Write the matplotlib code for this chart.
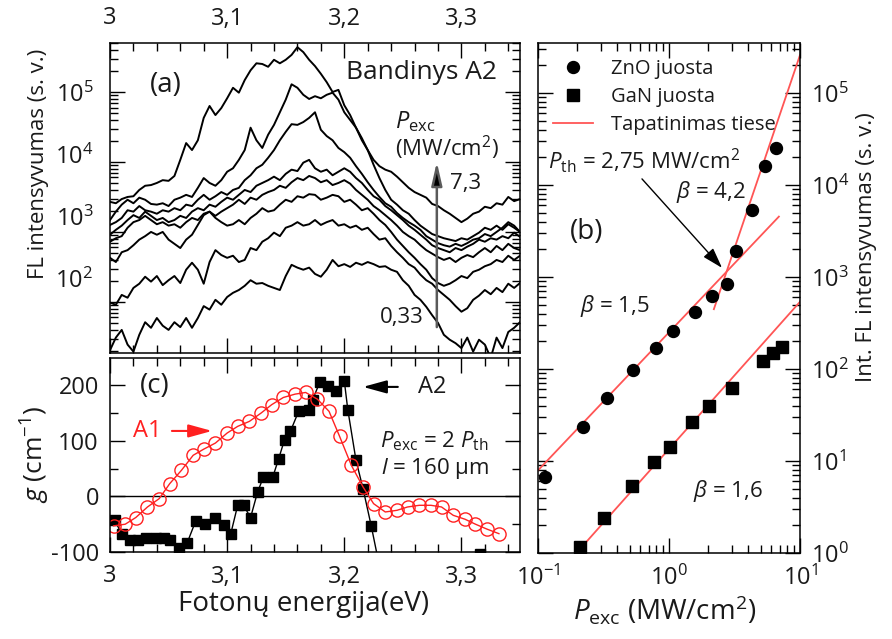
import numpy as np
import matplotlib
matplotlib.use("Agg")
import matplotlib.pyplot as plt
from matplotlib.ticker import (FixedLocator, FuncFormatter, MultipleLocator,
                               LogLocator, NullFormatter, NullLocator)
from matplotlib.lines import Line2D

plt.rcParams["font.family"] = ["Open Sans", "DejaVu Sans"]
plt.rcParams["mathtext.fontset"] = "custom"
plt.rcParams["mathtext.rm"] = "Open Sans"
plt.rcParams["mathtext.it"] = "Open Sans:italic"
plt.rcParams["mathtext.bf"] = "Open Sans:bold"
plt.rcParams["axes.unicode_minus"] = False

TEXT = "#1a1a1a"
RED = "#ff2020"
FIT = "#ff5555"

# ---------------- (a) PL spectra, log10 of intensity (a.u.) ----------------
energy_a = np.linspace(3.0, 3.35, 71)  # spectrometer grid, eV

spec_1 = [1.31, 1.49, 1.60, 1.39, 1.29, 1.53, 1.71, 1.63, 1.77, 1.66,
          1.60, 1.71, 1.64, 1.77, 1.63, 1.77, 1.94, 1.89, 2.03, 1.96,
          2.07, 2.13, 2.17, 2.23, 2.31, 2.26, 2.27, 2.23, 2.20, 2.17,
          2.37, 2.53, 2.49, 2.46, 2.49, 2.40, 2.36, 2.46, 2.60, 2.51,
          2.54, 2.50, 2.56, 2.53, 2.57, 2.54, 2.50, 2.51, 2.46, 2.43,
          2.31, 2.23, 2.10, 2.03, 1.93, 1.81, 1.70, 1.53, 1.46, 1.41,
          1.34, 1.49, 1.29, 1.46, 1.39, 1.20, 1.49, 1.34, 1.57, 1.63, 1.71]
spec_2 = [1.99, 1.96, 2.10, 2.06, 2.20, 2.26, 2.36, 2.29, 2.37, 2.24,
          2.31, 2.37, 2.27, 2.46, 2.56, 2.46, 2.26, 2.57, 2.74, 2.67,
          2.63, 2.66, 2.57, 2.60, 2.77, 2.74, 2.86, 2.91, 2.99, 2.94,
          3.06, 3.09, 3.14, 3.09, 3.11, 3.17, 3.10, 3.14, 3.17, 3.09,
          3.11, 3.06, 3.09, 3.03, 3.06, 2.97, 2.89, 2.91, 2.80, 2.71,
          2.63, 2.54, 2.49, 2.39, 2.31, 2.26, 2.17, 2.10, 2.03, 1.94,
          1.86, 1.91, 2.03, 2.09, 2.17, 2.11, 2.20, 2.14, 2.26, 2.20, 2.27]
spec_3 = [2.63, 2.57, 2.71, 2.74, 2.81, 2.89, 2.94, 3.00, 2.96, 3.00,
          2.89, 2.83, 2.77, 2.89, 2.96, 3.10, 3.24, 3.29, 3.20, 3.14,
          3.09, 3.11, 3.17, 3.11, 3.20, 3.26, 3.34, 3.29, 3.31, 3.39,
          3.46, 3.43, 3.51, 3.49, 3.54, 3.53, 3.46, 3.49, 3.53, 3.51,
          3.43, 3.46, 3.39, 3.31, 3.34, 3.26, 3.17, 3.10, 3.00, 2.89,
          2.80, 2.71, 2.63, 2.54, 2.46, 2.34, 2.27, 2.23, 2.26, 2.31,
          2.37, 2.34, 2.43, 2.46, 2.51, 2.54, 2.60, 2.57, 2.66, 2.60, 2.66]
spec_4 = [2.86, 2.91, 2.94, 3.06, 3.14, 3.17, 3.23, 3.17, 3.11, 3.14,
          3.09, 3.11, 3.06, 3.14, 3.20, 3.17, 3.26, 3.29, 3.23, 3.29,
          3.34, 3.39, 3.46, 3.40, 3.49, 3.46, 3.53, 3.57, 3.60, 3.66,
          3.63, 3.71, 3.77, 3.74, 3.80, 3.77, 3.71, 3.74, 3.67, 3.70,
          3.74, 3.69, 3.60, 3.53, 3.46, 3.37, 3.31, 3.24, 3.17, 3.09,
          3.00, 2.94, 2.89, 2.81, 2.74, 2.69, 2.64, 2.60, 2.63, 2.57,
          2.63, 2.67, 2.64, 2.71, 2.77, 2.71, 2.80, 2.74, 2.83, 2.77, 2.74]
spec_5 = [2.96, 3.03, 3.09, 3.17, 3.24, 3.20, 3.29, 3.23, 3.17, 3.20,
          3.14, 3.17, 3.23, 3.20, 3.29, 3.34, 3.31, 3.39, 3.36, 3.43,
          3.49, 3.46, 3.53, 3.60, 3.57, 3.66, 3.70, 3.74, 3.79, 3.74,
          3.83, 3.89, 3.87, 3.99, 4.03, 3.91, 3.86, 3.89, 3.81, 3.86,
          3.91, 3.86, 3.77, 3.70, 3.60, 3.51, 3.46, 3.37, 3.31, 3.24,
          3.17, 3.09, 3.03, 2.96, 2.89, 2.81, 2.77, 2.74, 2.71, 2.77,
          2.74, 2.79, 2.83, 2.89, 2.86, 2.91, 2.89, 2.94, 2.91, 2.99, 2.93]
spec_6 = [3.10, 3.14, 3.20, 3.31, 3.29, 3.37, 3.31, 3.29, 3.26, 3.31,
          3.29, 3.34, 3.31, 3.39, 3.37, 3.46, 3.53, 3.46, 3.51, 3.57,
          3.53, 3.60, 3.63, 3.74, 3.81, 3.91, 3.96, 4.06, 4.17, 4.31,
          4.43, 4.54, 4.53, 4.57, 4.63, 4.71, 4.46, 4.37, 4.31, 4.20,
          4.14, 4.06, 3.94, 3.83, 3.71, 3.60, 3.50, 3.41, 3.36, 3.27,
          3.20, 3.14, 3.09, 3.03, 2.94, 2.89, 2.84, 2.81, 2.79, 2.83,
          2.80, 2.84, 2.89, 2.91, 2.97, 2.94, 3.00, 3.06, 3.14, 3.09, 3.00]
spec_7 = [3.17, 3.29, 3.39, 3.46, 3.41, 3.49, 3.46, 3.40, 3.39, 3.41,
          3.37, 3.46, 3.49, 3.53, 3.50, 3.63, 3.77, 3.70, 3.66, 3.74,
          3.86, 3.91, 4.03, 4.17, 4.49, 4.31, 4.20, 4.39, 4.53, 4.71,
          4.89, 5.11, 5.06, 4.96, 4.90, 4.94, 4.91, 4.96, 4.99, 4.89,
          4.71, 4.60, 4.49, 4.34, 4.17, 3.96, 3.77, 3.60, 3.46, 3.39,
          3.31, 3.26, 3.17, 3.09, 3.03, 2.97, 2.94, 2.91, 2.89, 2.87,
          2.91, 2.89, 2.94, 2.99, 3.06, 3.03, 3.09, 3.03, 3.11, 3.06, 3.00]
spec_8 = [3.43, 3.41, 3.47, 3.50, 3.51, 3.60, 3.66, 3.67, 3.70, 3.74,
          3.73, 3.80, 4.03, 4.27, 4.17, 4.31, 4.63, 4.80, 4.67, 4.77,
          4.91, 5.06, 4.99, 5.17, 5.31, 5.41, 5.40, 5.36, 5.46, 5.41,
          5.46, 5.53, 5.64, 5.57, 5.46, 5.37, 5.26, 5.14, 5.00, 5.03,
          4.81, 4.67, 4.49, 4.31, 4.17, 4.03, 3.94, 3.89, 3.86, 3.79,
          3.71, 3.63, 3.57, 3.53, 3.49, 3.40, 3.37, 3.31, 3.26, 3.20,
          3.14, 3.19, 3.26, 3.29, 3.36, 3.34, 3.41, 3.39, 3.50, 3.44, 3.47]
spectra = [spec_1, spec_2, spec_3, spec_4, spec_5, spec_6, spec_7, spec_8]

# ---------------- (c) modal gain, cm^-1 ----------------
energy_a1 = [3.003, 3.013, 3.022, 3.032, 3.042, 3.051, 3.061, 3.071, 3.080,
             3.090, 3.100, 3.109, 3.119, 3.129, 3.138, 3.148, 3.158, 3.167,
             3.177, 3.187, 3.196, 3.206, 3.216, 3.225, 3.235, 3.245, 3.254,
             3.264, 3.274, 3.283, 3.293, 3.303, 3.312, 3.322, 3.332]
gain_a1 = [-53, -50, -38, -19, -4, 23, 47, 74, 85, 96, 114, 126, 135, 150,
           165, 178, 184, 187, 175, 153, 108, 56, 17, -13, -28, -25, -19,
           -16, -16, -19, -34, -41, -50, -59, -67]

energy_a2 = [3.004, 3.010, 3.017, 3.024, 3.031, 3.039, 3.046, 3.051, 3.059,
             3.066, 3.073, 3.081, 3.090, 3.097, 3.103, 3.109, 3.114, 3.120,
             3.126, 3.131, 3.139, 3.144, 3.149, 3.154, 3.161, 3.170, 3.173,
             3.179, 3.186, 3.193, 3.200, 3.203, 3.210, 3.216, 3.223, 3.229,
             3.316]
gain_a2 = [-42, -68, -79, -78, -75, -74, -75, -79, -92, -83, -45, -50, -38,
           -51, -68, -16, -16, -38, 8, 35, 35, 68, 102, 117, 153, 156, 174,
           205, 199, 190, 208, 156, 65, 14, -53, -115, -104]

# ---------------- (b) integrated PL vs excitation ----------------
p_zno = [0.113, 0.222, 0.334, 0.535, 0.79, 1.067, 1.59, 2.13, 2.75, 3.23,
         4.33, 5.41, 6.53]
i_zno = [6.7, 23.6, 48, 97, 168, 259, 420, 626, 840, 1920, 5400, 16200,
         25000]
p_gan = [0.209, 0.319, 0.519, 0.767, 1.02, 1.51, 2.03, 3.01, 5.25, 6.26, 7.24]
i_gan = [1.17, 2.42, 5.3, 9.8, 14.1, 26.5, 39.6, 62.6, 123, 150, 175]

P_TH = 2.75          # MW/cm^2
BETA_LOW = 1.5
BETA_HIGH = 4.2
BETA_GAN = 1.6
ZNO_PREFACTOR = 250.0
GAN_PREFACTOR = 13.5

P_EXC_MAX = 7.3
P_EXC_MIN = 0.33


def comma(v, fmt="{:.1f}"):
    return fmt.format(v).replace(".", ",")


def ev_label(v, pos):
    return "3" if abs(v - 3.0) < 1e-9 else comma(v)


fig = plt.figure(figsize=(8.92, 6.39), dpi=100)
ax_a = fig.add_axes([110 / 892, 1 - 353 / 639, 410 / 892, 310 / 639])
ax_c = fig.add_axes([110 / 892, 1 - 552 / 639, 410 / 892, 194 / 639])
ax_b = fig.add_axes([538 / 892, 1 - 553 / 639, 262 / 892, 510 / 639])


def style(ax):
    ax.tick_params(which="both", direction="in", top=True, right=True,
                   width=1.0, labelcolor=TEXT, labelsize=17)
    ax.tick_params(which="major", length=10.5)
    ax.tick_params(which="minor", length=6)
    for sp in ax.spines.values():
        sp.set_linewidth(1.1)


for ax in (ax_a, ax_b, ax_c):
    style(ax)

# ---------- panel (a) ----------
for s in spectra:
    ax_a.plot(energy_a, 10 ** np.asarray(s), color="k", lw=1.4)
ax_a.set_xlim(3.0, 3.35)
ax_a.set_yscale("log")
ax_a.set_ylim(10 ** 1.27, 10 ** 5.70)
ax_a.xaxis.set_major_locator(FixedLocator([3.0, 3.1, 3.2, 3.3]))
ax_a.xaxis.set_minor_locator(MultipleLocator(0.02))
ax_a.xaxis.set_major_formatter(FuncFormatter(ev_label))
ax_a.tick_params(axis="x", labelbottom=False, labeltop=True, pad=9)
ax_a.yaxis.set_major_locator(LogLocator(base=10, numticks=10))
ax_a.yaxis.set_minor_locator(LogLocator(base=10, subs=np.arange(2, 10), numticks=10))
ax_a.yaxis.set_minor_formatter(NullFormatter())
ax_a.tick_params(axis="y", labelleft=False)
ax_a.set_ylabel("FL intensyvumas (s. v.)", fontsize=16, color=TEXT)
ax_a.yaxis.set_label_coords(-0.148, 0.61)

# decade labels of the intensity scale are set on a slightly compressed guide axis
STRETCH = 70 / 62


def to_guide(y):
    v = np.log10(np.clip(y, 1e-300, None))
    return 10 ** (5 - (5 - v) * STRETCH)


def from_guide(u):
    w = np.log10(np.clip(u, 1e-300, None))
    return 10 ** (5 - (5 - w) / STRETCH)


guide = ax_a.secondary_yaxis("left", functions=(to_guide, from_guide))
guide.set_yticks([1e2, 1e3, 1e4, 1e5])
guide.yaxis.set_minor_locator(NullLocator())
guide.tick_params(which="both", length=0, labelsize=17, labelcolor=TEXT, pad=12)
guide.spines["left"].set_visible(False)

ax_a.text(0.098, 0.865, "(a)", transform=ax_a.transAxes, fontsize=20,
          color=TEXT, va="center", ha="left")
ax_a.text(0.944, 0.906, "Bandinys A2", transform=ax_a.transAxes, fontsize=19,
          color=TEXT, va="center", ha="right")
ax_a.text(0.695, 0.745, r"$P_{\mathrm{exc}}$", transform=ax_a.transAxes,
          fontsize=17, color=TEXT, va="center", ha="left")
ax_a.text(0.695, 0.661, r"(MW/cm$^{2}$)", transform=ax_a.transAxes,
          fontsize=16, color=TEXT, va="center", ha="left")
ax_a.text(0.829, 0.548, comma(P_EXC_MAX), transform=ax_a.transAxes,
          fontsize=16, color=TEXT, va="center", ha="left")
ax_a.text(0.659, 0.113, comma(P_EXC_MIN, "{:.2f}"), transform=ax_a.transAxes,
          fontsize=16, color=TEXT, va="center", ha="left")
ax_a.annotate("", xy=(3.279, 10 ** 4.0), xytext=(3.279, 10 ** 1.64),
              arrowprops=dict(arrowstyle="-|>,head_length=0.7,head_width=0.16",
                              mutation_scale=20, ec="#5a5a5a", fc="k", lw=1.8,
                              shrinkA=0, shrinkB=0))

# ---------- panel (c) ----------
ax_c.axhline(0, color="k", lw=1.0)
ax_c.plot(energy_a2, gain_a2, color="k", lw=1.0, marker="s", ms=7.2,
          mfc="k", mec="k")
ax_c.plot(energy_a1, gain_a1, color=RED, lw=1.0, marker="o", ms=9.5,
          mfc="none", mec=RED, mew=1.0)
ax_c.set_xlim(3.0, 3.35)
ax_c.set_ylim(-100, 249)
ax_c.xaxis.set_major_locator(FixedLocator([3.0, 3.1, 3.2, 3.3]))
ax_c.xaxis.set_minor_locator(MultipleLocator(0.02))
ax_c.xaxis.set_major_formatter(FuncFormatter(ev_label))
ax_c.yaxis.set_major_locator(MultipleLocator(100))
ax_c.yaxis.set_minor_locator(MultipleLocator(50))
ax_c.yaxis.set_major_formatter(FuncFormatter(lambda v, p: f"{v:.0f}"))
ax_c.tick_params(axis="x", pad=9)
ax_c.tick_params(axis="y", pad=8)
ax_c.set_xlabel("Fotonų energija(eV)", fontsize=20, color=TEXT)
ax_c.xaxis.set_label_coords(0.473, -0.195)
ax_c.set_ylabel(r"$g$ (cm$^{-1}$)", fontsize=19, color=TEXT)
ax_c.yaxis.set_label_coords(-0.142, 0.505)

ax_c.text(0.073, 0.856, "(c)", transform=ax_c.transAxes, fontsize=20,
          color=TEXT, va="center", ha="left")
ax_c.text(0.751, 0.851, "A2", transform=ax_c.transAxes, fontsize=17,
          color=TEXT, va="center", ha="left")
ax_c.annotate("", xy=(0.617, 0.851), xytext=(0.702, 0.851),
              xycoords="axes fraction", textcoords="axes fraction",
              arrowprops=dict(arrowstyle="-|>,head_length=0.8,head_width=0.22",
                              mutation_scale=18, color="k", lw=1.5,
                              shrinkA=0, shrinkB=0))
ax_c.text(0.056, 0.624, "A1", transform=ax_c.transAxes, fontsize=17,
          color=RED, va="center", ha="left")
ax_c.annotate("", xy=(0.249, 0.624), xytext=(0.151, 0.624),
              xycoords="axes fraction", textcoords="axes fraction",
              arrowprops=dict(arrowstyle="-|>,head_length=0.8,head_width=0.22",
                              mutation_scale=18, color=RED, lw=1.5,
                              shrinkA=0, shrinkB=0))
ax_c.text(0.659, 0.572, r"$P_{\mathrm{exc}}$ = 2 $P_{\mathrm{th}}$",
          transform=ax_c.transAxes, fontsize=16, color=TEXT, va="center",
          ha="left")
ax_c.text(0.661, 0.428, r"$l$ = 160 μm", transform=ax_c.transAxes,
          fontsize=16, color=TEXT, va="center", ha="left")

# ---------- panel (b) ----------
high_prefactor = ZNO_PREFACTOR * P_TH ** (BETA_LOW - BETA_HIGH)
p_low = np.array([0.1, 6.9])
p_high = np.array([2.2, 10.0])
p_g = np.array([0.15, 10.0])
ax_b.plot(p_low, ZNO_PREFACTOR * p_low ** BETA_LOW, color=FIT, lw=1.3, zorder=2)
ax_b.plot(p_high, high_prefactor * p_high ** BETA_HIGH, color=FIT, lw=1.3, zorder=2)
ax_b.plot(p_g, GAN_PREFACTOR * p_g ** BETA_GAN, color=FIT, lw=1.3, zorder=2)
ax_b.plot(p_zno, i_zno, ls="none", marker="o", ms=8.6, color="k", zorder=3)
ax_b.plot(p_gan, i_gan, ls="none", marker="s", ms=8.0, color="k", zorder=3)

ax_b.set_xscale("log")
ax_b.set_yscale("log")
ax_b.set_xlim(0.1, 10)
ax_b.set_ylim(1, 10 ** 5.543)
for axis in (ax_b.xaxis, ax_b.yaxis):
    axis.set_major_locator(LogLocator(base=10, numticks=12))
    axis.set_minor_locator(LogLocator(base=10, subs=np.arange(2, 10), numticks=12))
    axis.set_minor_formatter(NullFormatter())
ax_b.tick_params(axis="y", labelleft=False, labelright=True, pad=8)
ax_b.tick_params(axis="x", pad=9)
ax_b.yaxis.set_label_position("right")
ax_b.set_ylabel("Int. FL intensyvumas (s. v.)", fontsize=16, color=TEXT)
ax_b.yaxis.set_label_coords(1.215, 0.60)
ax_b.set_xlabel(r"$P_{\mathrm{exc}}$ (MW/cm$^{2}$)", fontsize=20, color=TEXT)
ax_b.xaxis.set_label_coords(0.485, -0.080)

handles = [Line2D([], [], ls="none", marker="o", ms=8.6, color="k"),
           Line2D([], [], ls="none", marker="s", ms=8.0, color="k"),
           Line2D([], [], color=FIT, lw=1.3)]
ax_b.legend(handles, ["ZnO juosta", "GaN juosta", "Tapatinimas tiese"],
            loc="upper left", bbox_to_anchor=(0.057, 0.968), frameon=False,
            fontsize=14.5, handlelength=2.0, handletextpad=0.9,
            labelspacing=0.38, borderpad=0, borderaxespad=0, labelcolor=TEXT)

ax_b.text(0.038, 0.770, r"$P_{\mathrm{th}}$ = " + comma(P_TH, "{:.2f}") + r" MW/cm$^{2}$",
          transform=ax_b.transAxes, fontsize=16, color=TEXT, va="center", ha="left")
ax_b.text(0.527, 0.707, r"$\beta$ = " + comma(BETA_HIGH), transform=ax_b.transAxes,
          fontsize=16, color=TEXT, va="center", ha="left")
ax_b.text(0.122, 0.629, "(b)", transform=ax_b.transAxes, fontsize=20,
          color=TEXT, va="center", ha="left")
ax_b.text(0.160, 0.485, r"$\beta$ = " + comma(BETA_LOW), transform=ax_b.transAxes,
          fontsize=16, color=TEXT, va="center", ha="left")
ax_b.text(0.592, 0.122, r"$\beta$ = " + comma(BETA_GAN), transform=ax_b.transAxes,
          fontsize=16, color=TEXT, va="center", ha="left")
ax_b.annotate("", xy=(2.54, 1256), xytext=(0.622, 11640),
              arrowprops=dict(arrowstyle="-|>,head_length=0.7,head_width=0.22",
                              mutation_scale=18, color="k", lw=1.0,
                              shrinkA=0, shrinkB=0))

fig.savefig("out.png", dpi=100)
